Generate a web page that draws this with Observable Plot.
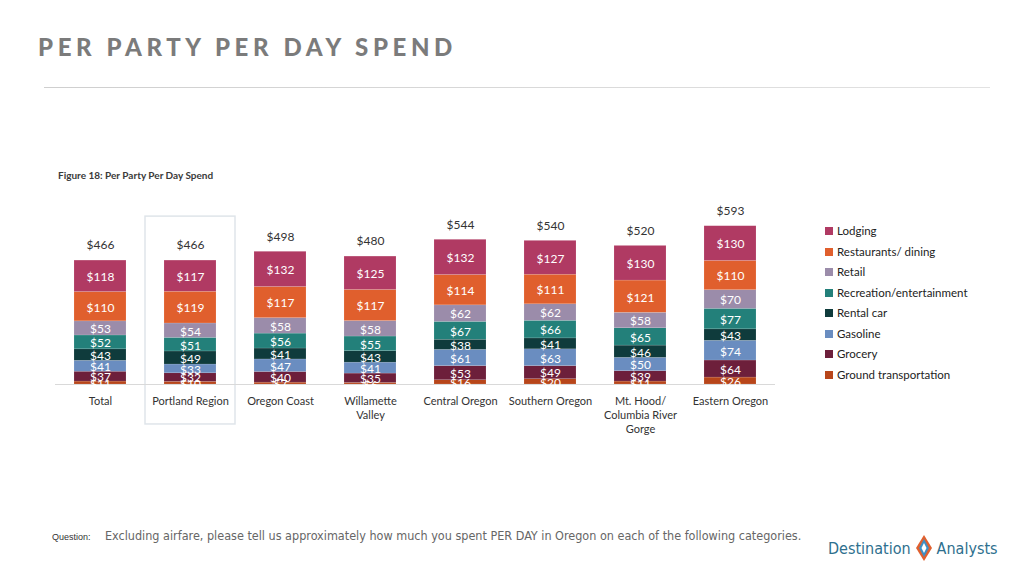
<!DOCTYPE html>
<html>
<head>
<meta charset="utf-8">
<script src="https://cdn.jsdelivr.net/npm/d3@7"></script>
<script src="https://cdn.jsdelivr.net/npm/@observablehq/plot@0.6"></script>
<style>
  html, body { margin: 0; padding: 0; background: #fff; }
  #page { position: relative; width: 1024px; height: 576px; overflow: hidden; font-family: Lato, "Open Sans", sans-serif; }
  #title { position: absolute; left: 38px; top: 32px; font-family: Lato, sans-serif; font-weight: 900; font-size: 24px; letter-spacing: 4.6px; color: #7b7b7b; white-space: nowrap; }
  #rule { position: absolute; left: 44px; top: 87px; width: 946px; height: 1px; background: linear-gradient(to right, #cfcfcf, #e2e2e2); }
  #fig { position: absolute; left: 58px; top: 169px; font-size: 10px; font-weight: 700; color: #3a3a3a; }
  #chart { position: absolute; left: 0; top: 190px; }
  #legend { position: absolute; left: 825px; top: 223px; font-size: 11.5px; color: #222; }
  #legend .item { height: 20.5px; line-height: 16px; white-space: nowrap; }
  #legend .sw { display: inline-block; width: 8px; height: 8px; margin-right: 4px; vertical-align: 0px; }
  #q { position: absolute; left: 52px; top: 524px; white-space: nowrap; color: #666; }
  #q .lab { font-family: "Liberation Sans Narrow", "Liberation Sans", sans-serif; font-size: 9px; color: #333; display: inline-block; width: 53px; }
  #q .txt { font-family: "Liberation Sans Narrow", "DejaVu Sans Condensed", sans-serif; font-size: 12.5px; }
  #logo { position: absolute; left: 828px; top: 533px; font-family: "DejaVu Sans Condensed", "Liberation Sans Narrow", sans-serif; font-size: 16px; color: #2e6f8e; white-space: nowrap; display: flex; align-items: center; }
  #logo svg { margin: 0 3px; }
</style>
</head>
<body>
<div id="page">
  <div id="title">PER PARTY PER DAY SPEND</div>
  <div id="rule"></div>
  <div id="fig">Figure 18: Per Party Per Day Spend</div>
  <div id="chart"></div>
  <div id="legend"></div>
  <div id="q"><span class="lab">Question:</span><span class="txt">Excluding airfare, please tell us approximately how much you spent PER DAY in Oregon on each of the following categories.</span></div>
  <div id="logo"><span>Destination</span><svg width="20" height="30" viewBox="0 0 20 30"><polygon points="10,2 18,15 10,28 2,15" fill="#e0602f"/><polygon points="10,6 15,15 10,24 5,15" fill="#3f8fc4"/><polygon points="10,10 12.5,15 10,20 7.5,15" fill="#fff"/></svg><span>Analysts</span></div>
</div>
<script>
// ---- data ----
const categories = ["Total", "Portland Region", "Oregon Coast", "Willamette\nValley", "Central Oregon", "Southern Oregon", "Mt. Hood/\nColumbia River\nGorge", "Eastern Oregon"];
const seriesNames = ["Lodging", "Restaurants/ dining", "Retail", "Recreation/entertainment", "Rental car", "Gasoline", "Grocery", "Ground transportation"];
const seriesColors = ["#b03a63", "#e05f2d", "#9b8caa", "#23807a", "#0f3b3c", "#6a8dc0", "#6d1f3b", "#b8461a"];
const lodging     = [118, 117, 132, 125, 132, 127, 130, 130];
const restaurants = [110, 119, 117, 117, 114, 111, 121, 110];
const retail      = [53, 54, 58, 58, 62, 62, 58, 70];
const recreation  = [52, 51, 56, 55, 67, 66, 65, 77];
const rentalCar   = [43, 49, 41, 43, 38, 41, 46, 43];
const gasoline    = [41, 33, 47, 41, 61, 63, 50, 74];
const grocery     = [37, 32, 40, 35, 53, 49, 39, 64];
const groundTransportation = [11, 10, 7, 6, 16, 20, 11, 26];
const totals      = [466, 466, 498, 480, 544, 540, 520, 593];
const highlighted = "Portland Region";

// ---- build table (stack bottom -> top: ground first) ----
const seriesValues = [lodging, restaurants, retail, recreation, rentalCar, gasoline, grocery, groundTransportation];
const rows = [];
const tops = [];
categories.forEach((cat, i) => {
  let base = 0;
  for (let s = seriesNames.length - 1; s >= 0; s--) {
    const v = seriesValues[s][i];
    rows.push({cat, series: seriesNames[s], value: v, y1: base, y2: base + v, mid: base + v / 2});
    base += v;
  }
  tops.push({cat, top: base, total: totals[i]});
});

const font = "Lato, 'Open Sans', sans-serif";
const chart = Plot.plot({
  width: 790,
  height: 250,
  marginLeft: 55,
  marginRight: 15,
  marginTop: 0,
  marginBottom: 56,
  style: {fontFamily: font, overflow: "visible"},
  x: {domain: categories, paddingInner: 0.42, paddingOuter: 0.21, axis: null},
  y: {domain: [0, 728], axis: null},
  color: {domain: seriesNames, range: seriesColors},
  marks: [
    Plot.barY([{cat: highlighted}], {x: "cat", y1: -150, y2: 630, fill: "none", stroke: "#dfe5ea", strokeWidth: 1.5, insetLeft: -19, insetRight: -19}),
    Plot.ruleY([0], {stroke: "#d9d9d9", strokeWidth: 1}),
    Plot.barY(rows, {x: "cat", y1: "y1", y2: "y2", fill: "series", stroke: "#ffffff", strokeOpacity: 0.25, strokeWidth: 0.5}),
    Plot.text(rows, {x: "cat", y: "mid", text: d => "$" + d.value, fill: "white", fontSize: 12, dy: 1}),
    Plot.text(tops, {x: "cat", y: "top", text: d => "$" + d.total, fill: "#333", fontSize: 12, dy: -15}),
    Plot.text(categories, {x: d => d, y: 0, text: d => d, fill: "#333", fontSize: 11, lineAnchor: "top", dy: 10, lineHeight: 1.3})
  ]
});
document.getElementById("chart").appendChild(chart);

// ---- legend ----
const legend = document.getElementById("legend");
seriesNames.forEach((name, i) => {
  const item = document.createElement("div");
  item.className = "item";
  item.innerHTML = `<span class="sw" style="background:${seriesColors[i]}"></span>${name}`;
  legend.appendChild(item);
});
</script>
</body>
</html>
